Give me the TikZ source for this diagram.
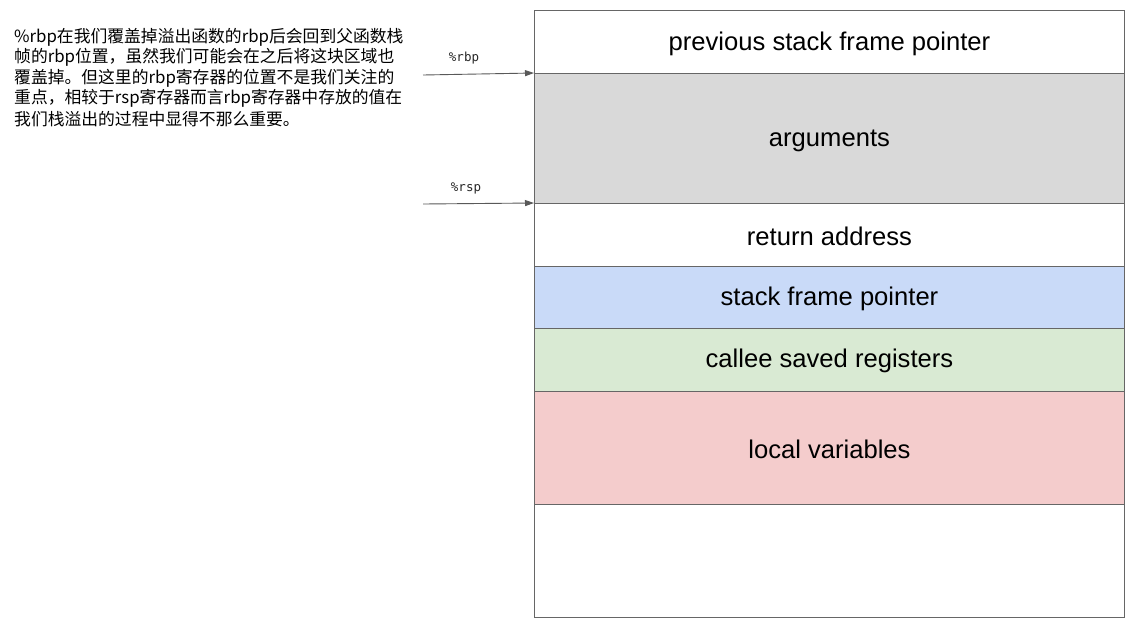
\documentclass[tikz,border=0pt]{standalone}
\usepackage{fontspec}
\setmainfont{Liberation Sans}
\newfontfamily\cjk{Noto Sans CJK SC}
\newfontfamily\monof{DejaVu Sans Mono}
\usetikzlibrary{arrows.meta}
\definecolor{edgegray}{HTML}{666666}
\definecolor{arrgray}{HTML}{595959}
\definecolor{argfill}{HTML}{D9D9D9}
\definecolor{sfpfill}{HTML}{C9DAF8}
\definecolor{calfill}{HTML}{D9EAD3}
\definecolor{locfill}{HTML}{F4CCCC}
\tikzset{
  row/.style={draw=edgegray, line width=0.9pt, minimum width=590pt, inner sep=0pt, anchor=north west,
    font=\fontsize{25.6}{30}\selectfont, text=black},
  lbl/.style={font=\fontsize{25.6}{30}\selectfont, text=black, inner sep=0pt},
  ptr/.style={draw=arrgray, line width=0.9pt, -{Triangle[length=9pt,width=6pt]}},
  reglabel/.style={font=\monof\fontsize{12.5}{14}\selectfont, text=black!85},
  note/.style={font=\cjk\fontsize{16.8}{18}\selectfont, anchor=west, inner sep=0pt, text=black}
}
\begin{document}
\begin{tikzpicture}[x=1pt,y=-1pt]
\path[use as bounding box, fill=white] (0,0) rectangle (1148,641);
\node[row, minimum height=63pt] (prev) at (534,10) {};
\node[row, minimum height=130pt, fill=argfill] (args) at (534,73) {};
\node[row, minimum height=63pt] (ret) at (534,203) {};
\node[row, minimum height=62pt, fill=sfpfill] (sfp) at (534,266) {};
\node[row, minimum height=63pt, fill=calfill] (cal) at (534,328) {};
\node[row, minimum height=113pt, fill=locfill] (loc) at (534,391) {};
\node[row, minimum height=113pt] (empty) at (534,504) {};
\node[lbl] (prevtxt) at ([yshift=-2pt]prev.center) {previous stack frame pointer};
\node[lbl] (argstxt) at ([yshift=-2pt]args.center) {arguments};
\node[lbl] (rettxt) at ([yshift=-1pt]ret.center) {return address};
\node[lbl] (sfptxt) at ([yshift=-1pt]sfp.center) {stack frame pointer};
\node[lbl] (caltxt) at ([yshift=-1pt]cal.center) {callee saved registers};
\node[lbl] (loctxt) at ([yshift=-1pt]loc.center) {local variables};
\coordinate (rbpstart) at (423,75);
\coordinate (rspstart) at (423,204);
\draw[ptr] (rbpstart) -- (args.north west);
\draw[ptr] (rspstart) -- (ret.north west);
\node[reglabel] (rbplab) at (464,58) {\%rbp};
\node[reglabel] (rsplab) at (466,188) {\%rsp};
\node[note] (n1) at (14,37) {\%rbp在我们覆盖掉溢出函数的rbp后会回到父函数栈};
\node[note] (n2) at (14,57.5) {帧的rbp位置，虽然我们可能会在之后将这块区域也};
\node[note] (n3) at (14,78) {覆盖掉。但这里的rbp寄存器的位置不是我们关注的};
\node[note] (n4) at (14,98.5) {重点，相较于rsp寄存器而言rbp寄存器中存放的值在};
\node[note] (n5) at (14,119) {我们栈溢出的过程中显得不那么重要。};
\end{tikzpicture}
\end{document}
